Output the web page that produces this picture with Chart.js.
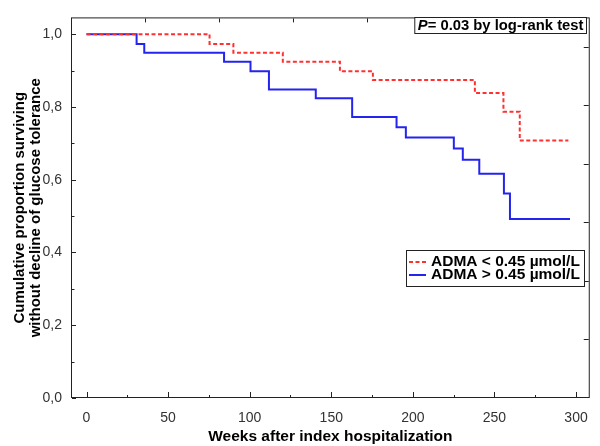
<!DOCTYPE html>
<html>
<head>
<meta charset="utf-8">
<script src="https://cdn.jsdelivr.net/npm/chart.js@4.4.0/dist/chart.umd.min.js"></script>
<style>
  html, body { margin: 0; padding: 0; background: #fff; }
</style>
</head>
<body>
<canvas id="myChart" width="600" height="446"></canvas>
<script>
// step points: weeks, cumulative proportion
let lowWeeks  = [0, 75.4, 90, 120.3, 155.3, 175.5, 238, 255.5, 265.5, 295.3];
let lowSurv   = [1.0, 0.973, 0.949, 0.924, 0.898, 0.874, 0.838, 0.787, 0.708, 0.708];
let highWeeks = [0, 30.7, 35.4, 84.3, 100.5, 111.8, 140.5, 162.8, 190, 195.7, 225.1, 230.6, 240.7, 255.8, 259.5, 296.3];
let highSurv  = [1.0, 0.973, 0.949, 0.924, 0.898, 0.848, 0.824, 0.772, 0.744, 0.716, 0.686, 0.655, 0.616, 0.562, 0.492, 0.492];
let labels = ['ADMA < 0.45 µmol/L', 'ADMA > 0.45 µmol/L'];
let xTicks = [0, 50, 100, 150, 200, 250, 300];
let yTicks = [0, 0.2, 0.4, 0.6, 0.8, 1.0];
let pText = '= 0.03 by log-rank test';

let toPoints = (xs, ys) => xs.map((x, i) => ({ x: x, y: ys[i] }));
let font = 'Liberation Sans, Arial, sans-serif';

// frame + inward tick marks on all four sides
let frame = {
  id: 'frame',
  afterDatasetsDraw(chart) {
    let { ctx, chartArea: a, scales } = chart;
    ctx.save();
    ctx.strokeStyle = '#222';
    ctx.lineWidth = 1;
    ctx.strokeRect(a.left + 0.5, a.top + 0.5, a.right - a.left - 1, a.bottom - a.top - 1);
    ctx.beginPath();
    for (let v = 0; v <= 300; v += 25) {
      let x = Math.round(scales.x.getPixelForValue(v)) + 0.5;
      let len = v % 50 === 0 ? 5 : 2;
      ctx.moveTo(x, a.bottom - 1); ctx.lineTo(x, a.bottom - 1 - len);
    }
    for (let v = 0; v <= 10; v++) {
      let y = Math.round(scales.y.getPixelForValue(v / 10)) + 0.5;
      let len = v % 2 === 0 ? 4 : 2.5;
      ctx.moveTo(a.left + 1, y); ctx.lineTo(a.left + 1 + len, y);
    }
    for (let v = 1; v <= 6; v++) {
      let x = Math.round(scales.x2.getPixelForValue(v)) + 0.5;
      ctx.moveTo(x, a.top + 1); ctx.lineTo(x, a.top + 5);
    }
    for (let v = 1; v <= 6; v++) {
      let y = Math.round(scales.y2.getPixelForValue(v)) + 0.5;
      ctx.moveTo(a.right - 1, y); ctx.lineTo(a.right - 6, y);
    }
    ctx.stroke();
    ctx.restore();
  }
};

// p-value box and legend drawn inside the plot
let boxes = {
  id: 'boxes',
  afterDraw(chart) {
    let ctx = chart.ctx;
    ctx.save();
    ctx.textBaseline = 'middle';

    // p value
    ctx.font = 'italic bold 14.8px ' + font;
    let pw = ctx.measureText('P').width;
    ctx.font = 'bold 14.8px ' + font;
    let tw = ctx.measureText(pText).width;
    let bx = 586.5 - (pw + tw + 6);
    ctx.fillStyle = '#fff';
    ctx.fillRect(bx, 17.5, 586.5 - bx, 16);
    ctx.strokeStyle = '#222';
    ctx.lineWidth = 1;
    ctx.strokeRect(bx, 17.5, 586.5 - bx, 16);
    ctx.fillStyle = '#000';
    ctx.font = 'italic bold 14.8px ' + font;
    ctx.fillText('P', bx + 3, 26);
    ctx.font = 'bold 14.8px ' + font;
    ctx.fillText(pText, bx + 3 + pw, 26);

    // legend
    ctx.fillStyle = '#fff';
    ctx.fillRect(406.5, 250.5, 178, 36);
    ctx.strokeRect(406.5, 250.5, 178, 36);
    chart.data.datasets.forEach((ds, i) => {
      let y = 262 + i * 13;
      ctx.beginPath();
      ctx.strokeStyle = ds.borderColor;
      ctx.lineWidth = 2;
      ctx.setLineDash(ds.borderDash || []);
      ctx.moveTo(409, y); ctx.lineTo(426, y);
      ctx.stroke();
      ctx.setLineDash([]);
      ctx.fillStyle = '#000';
      ctx.font = 'bold 15.5px ' + font;
      ctx.fillText(ds.label, 431, y);
    });
    ctx.restore();
  }
};

let chart = new Chart(document.getElementById('myChart'), {
  type: 'line',
  data: {
    datasets: [
      {
        label: labels[0],
        data: toPoints(lowWeeks, lowSurv),
        borderColor: '#ff3030',
        borderWidth: 2,
        borderDash: [4, 2.5],
        stepped: 'before',
        pointRadius: 0,
        fill: false
      },
      {
        label: labels[1],
        data: toPoints(highWeeks, highSurv),
        borderColor: '#2424ee',
        borderWidth: 2,
        stepped: 'before',
        pointRadius: 0,
        fill: false
      }
    ]
  },
  options: {
    responsive: false,
    animation: false,
    devicePixelRatio: 1,
    layout: { padding: { top: 6, right: 5, left: 0, bottom: 0 } },
    plugins: { legend: { display: false }, tooltip: { enabled: false } },
    scales: {
      x: {
        type: 'linear',
        min: -9.5,
        max: 308.4,
        afterFit: s => { s.height = 48; },
        afterBuildTicks: s => { s.ticks = xTicks.map(v => ({ value: v })); },
        grid: { display: false, drawTicks: false },
        border: { display: false },
        ticks: { color: '#333', font: { family: font, size: 14 }, padding: 12, maxRotation: 0 },
        title: {
          display: true,
          text: 'Weeks after index hospitalization',
          color: '#000',
          font: { family: font, size: 15.5, weight: 'bold' },
          padding: { top: 0, bottom: 0 }
        }
      },
      y: {
        min: 0,
        max: 1.046,
        afterFit: s => { s.width = 71; },
        afterBuildTicks: s => { s.ticks = yTicks.map(v => ({ value: v })); },
        grid: { display: false, drawTicks: false },
        border: { display: false },
        ticks: {
          color: '#333',
          font: { family: font, size: 14 },
          padding: 9,
          callback: v => v.toFixed(1).replace('.', ',')
        },
        title: {
          display: true,
          text: ['Cumulative proportion surviving', 'without decline of glucose tolerance'],
          color: '#000',
          font: { family: font, size: 15, weight: 'bold', lineHeight: 1.12 },
          padding: { top: 11, bottom: 0 }
        }
      },
      x2: { type: 'linear', position: 'top', display: false, min: 0, max: 7 },
      y2: { type: 'linear', position: 'right', display: false, min: 0, max: 6.5 }
    }
  },
  plugins: [frame, boxes]
});
</script>
</body>
</html>
